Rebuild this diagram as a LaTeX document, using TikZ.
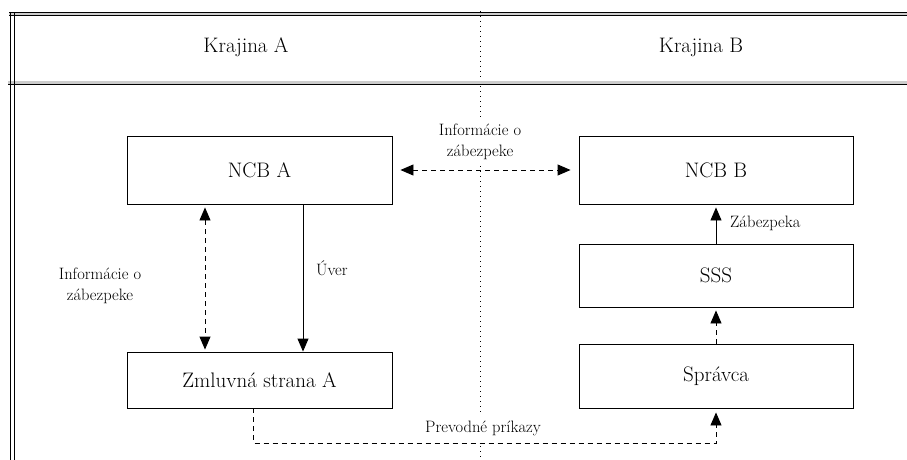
\documentclass[tikz,border=0pt]{standalone}
\usetikzlibrary{arrows.meta}
\begin{document}
\begin{tikzpicture}[x=1pt,y=-1pt,
  box/.style={draw, line width=0.9pt, inner sep=0pt, font=\fontsize{21}{25}\selectfont},
  head/.style={font=\fontsize{21}{25}\selectfont},
  lbl/.style={fill=white, inner sep=4pt, align=center, font=\fontsize{16.5}{21}\selectfont},
  frameline/.style={double=gray!40, line width=0.9pt},
  tip/.style={-{Triangle[length=13pt,width=11pt]}},
  twotips/.style={{Triangle[length=13pt,width=11pt]}-{Triangle[length=13pt,width=11pt]}},
  dashline/.style={line width=0.9pt, dash pattern=on 5pt off 4pt},
  solidline/.style={line width=0.9pt}]
\useasboundingbox (0,0) rectangle (907,460);
\draw[line width=0.9pt, dash pattern=on 1pt off 4pt] (480,11) -- (480,460);
\draw[frameline, double distance=1.6pt] (9,14) -- (907,14);
\draw[frameline, double distance=2.2pt] (8,82.5) -- (907,82.5);
\draw[solidline] (10,12.5) -- (10,460);
\draw[solidline] (14,12.5) -- (14,460);
\node[head] (krajinaa) at (246,47) {Krajina A};
\node[head] (krajinab) at (701,47) {Krajina B};
\node[box, minimum width=265pt, minimum height=68pt] (ncba) at (259.5,170) {NCB A};
\node[box, minimum width=265pt, minimum height=56pt] (zmluvna) at (259.5,380) {Zmluvná strana A};
\node[box, minimum width=274pt, minimum height=68pt] (ncbb) at (716,170) {NCB B};
\node[box, minimum width=274pt, minimum height=63pt] (sss) at (716,275.5) {SSS};
\node[box, minimum width=274pt, minimum height=64pt] (spravca) at (716,376) {Správca};
\node[lbl] (infotop) at (480,142) {Informácie o\\zábezpeke};
\node[lbl] (infoleft) at (100,286) {Informácie o\\zábezpeke};
\node[lbl, anchor=west] (uver) at (312,268) {Úver};
\node[lbl, anchor=west] (zabezpeka) at (726,223) {Zábezpeka};
\node[lbl, inner sep=7pt] (prevodne) at (483,428) {Prevodné príkazy};
\draw[dashline, twotips, shorten <=8pt, shorten >=8pt] (ncba) -- (ncbb);
\draw[dashline, twotips, shorten <=3pt, shorten >=2pt] ([xshift=-54.5pt]ncba.south) -- ([xshift=-54.5pt]zmluvna.north);
\draw[solidline, tip] ([xshift=43.5pt]ncba.south) -- ([xshift=43.5pt]zmluvna.north);
\draw[solidline, tip, shorten >=3pt] (sss) -- (ncbb);
\draw[dashline, tip, shorten >=3pt] (spravca) -- (sss);
\draw[dashline, tip, shorten >=4pt] ([xshift=-6pt]zmluvna.south) -- ++(0,35) -| (spravca.south);
\end{tikzpicture}
\end{document}
